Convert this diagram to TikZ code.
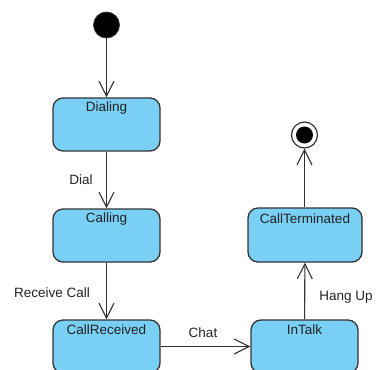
\documentclass[tikz,border=0pt]{standalone}
\usepackage{fontspec}
\setmainfont{Liberation Sans}
\usetikzlibrary{arrows.meta}
\definecolor{statefill}{HTML}{7ACFF5}
\definecolor{edge}{HTML}{333333}
\definecolor{txt}{HTML}{222222}
\tikzset{
  statebox/.style={draw=edge, line width=1.3pt, fill=statefill, rounded corners=10pt,
    minimum width=107pt, minimum height=53pt, inner sep=0pt},
  stname/.style={font=\fontsize{13.5}{15}\selectfont, text=txt, inner sep=0pt},
  trans/.style={draw=edge, line width=1.1pt, -{Straight Barb[length=15pt,width=15pt,line width=1.1pt]}},
  tlabel/.style={font=\fontsize{13.5}{15}\selectfont, text=txt, inner sep=0pt},
}
\begin{document}
\begin{tikzpicture}[x=1pt,y=-1pt]
\useasboundingbox (0,0) rectangle (376,370);
\clip (0,0) rectangle (376,370);
\node[circle, fill=black, draw=edge, line width=0.8pt, minimum size=26pt, inner sep=0pt] (init) at (106.5,25) {};
\node[statebox] (dialing) at (106.5,124.5) {};
\node[stname] (dialingT) at (106.5,108) {Dialing};
\node[statebox] (calling) at (106.5,235.5) {};
\node[stname] (callingT) at (106.5,219) {Calling};
\node[statebox] (received) at (106.5,346.5) {};
\node[stname] (receivedT) at (106.5,330) {CallReceived};
\node[statebox] (intalk) at (304.5,346.5) {};
\node[stname] (intalkT) at (304.5,330) {InTalk};
\node[statebox, minimum width=114pt, minimum height=54pt] (term) at (305,235) {};
\node[stname] (termT) at (305,219) {CallTerminated};
\node[circle, draw=edge, line width=1.2pt, fill=white, minimum size=26pt, inner sep=0pt] (final) at (304.5,135) {};
\node[circle, fill=black, minimum size=17pt, inner sep=0pt] (finalIn) at (304.5,135) {};

\draw[trans] (init) -- (dialing);
\draw[trans] (dialing) -- (calling);
\draw[trans] (calling) -- (received);
\draw[trans] (received) -- (intalk);
\draw[trans] (intalk) -- (term);
\draw[trans] (term.north -| final) -- (final);

\node[tlabel] (l1) at (81,180) {Dial};
\node[tlabel] (l2) at (52,293) {Receive Call};
\node[tlabel] (l3) at (203,333) {Chat};
\node[tlabel] (l4) at (346,297) {Hang Up};
\end{tikzpicture}
\end{document}
